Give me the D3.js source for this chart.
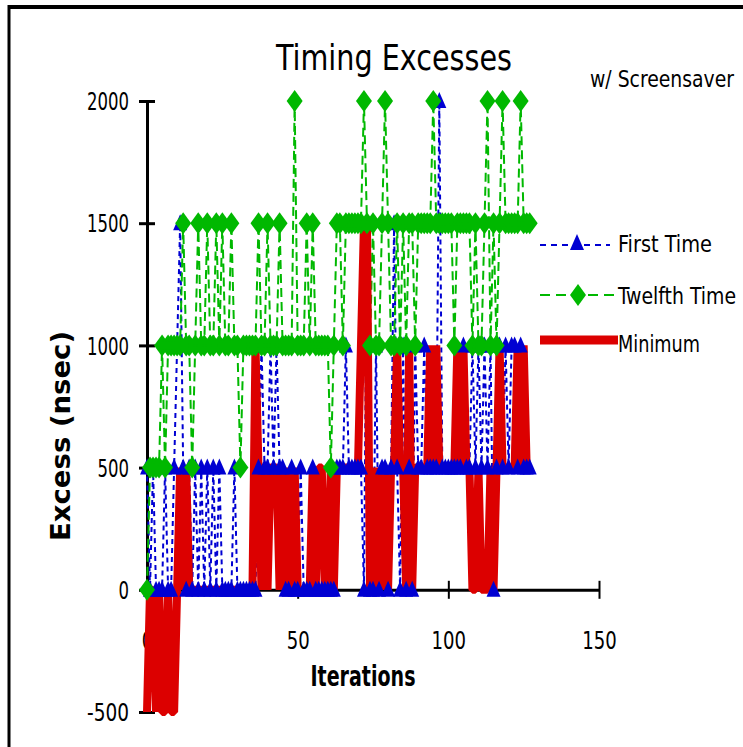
<!DOCTYPE html>
<html>
<head>
<meta charset="utf-8">
<script src="https://cdn.jsdelivr.net/npm/d3@7"></script>
<style>
html,body{margin:0;padding:0;background:#fff;}
svg{display:block;}
text{font-family:"DejaVu Sans Condensed","Liberation Sans Narrow","DejaVu Sans",sans-serif;fill:#000;}
</style>
</head>
<body>
<svg id="chart" width="743" height="747"></svg>
<script>
// ---- data (nsec), iterations 0..127 ----
const firstTime = [
  500,0,500,0,0,0,500,0,0,500,
  1000,1500,500,0,500,0,500,0,500,0,
  500,0,500,0,500,0,0,0,0,500,
  0,0,0,0,0,0,0,500,1000,500,
  500,1000,500,1000,500,500,0,0,500,0,
  0,500,0,0,0,500,0,0,0,0,
  0,0,0,500,500,500,1000,500,500,500,
  500,500,0,1500,0,0,1000,0,500,500,
  0,500,1500,500,0,1000,0,500,0,1000,
  500,500,1000,500,500,500,500,2000,500,500,
  500,500,500,500,500,1000,500,500,1000,500,
  1000,500,1000,500,1000,0,500,1000,500,1000,
  500,1000,1000,500,1000,500,500,500
];
const twelfthTime = [
  0,500,500,500,500,1000,500,1000,1000,1000,
  1000,1000,1500,1000,1000,500,1000,1500,1000,1000,
  1500,1000,1000,1500,1000,1500,1000,1000,1500,1000,
  1000,500,1000,1000,1000,1000,1000,1500,1000,1000,
  1500,1000,1000,1000,1500,1000,1000,1000,1000,2000,
  1000,1000,1000,1500,1000,1500,1000,1000,1000,1000,
  1000,500,1000,1500,1500,1000,1500,1500,1500,1500,
  1500,1500,2000,1500,1000,1500,1000,1000,1500,2000,
  1500,1000,1000,1500,1000,1500,1000,1500,1500,1000,
  1500,1500,1500,1500,1500,2000,1500,1500,1500,1500,
  1500,1500,1000,1500,1500,1500,1500,1500,1000,1500,
  1000,1000,1500,2000,1000,1500,1000,1500,2000,1500,
  1500,1500,1500,1500,2000,1500,1500,1500
];
const minimum = [
  -500,0,0,-500,0,-500,-500,0,-500,-500,
  0,500,0,500,0,0,0,0,0,0,
  0,0,0,0,0,0,0,0,0,0,
  0,0,0,0,0,0,1000,500,0,500,
  0,500,500,500,0,500,0,500,0,500,
  0,0,0,0,0,500,0,500,500,0,
  0,500,0,500,500,500,500,500,500,500,
  500,1000,1500,1500,0,500,0,500,0,500,
  0,500,500,1000,500,500,0,1000,0,500,
  500,500,500,500,1000,500,1000,500,500,500,
  500,500,500,1000,500,1000,500,500,0,0,
  500,0,0,0,500,0,500,1000,500,500,
  500,500,500,1000,500,1000,500,500
];
const xTicks = [0, 50, 100, 150];
const yTicks = [-500, 0, 500, 1000, 1500, 2000];
const seriesNames = ["First Time", "Twelfth Time", "Minimum"];

const BLUE = "#0000d2", GREEN = "#00b800", RED = "#dc0000";

const svg = d3.select("#chart");
const x = d3.scaleLinear().domain([0, 150]).range([147, 599]);
const y = d3.scaleLinear().domain([-500, 2000]).range([712, 101]);

// frame (top & left edges)
svg.append("rect").attr("x", 0).attr("y", 0).attr("width", 743).attr("height", 747).attr("fill", "#fff");
svg.append("line").attr("x1", 8).attr("x2", 743).attr("y1", 7).attr("y2", 7).attr("stroke", "#000").attr("stroke-width", 4);
svg.append("line").attr("x1", 9).attr("x2", 9).attr("y1", 5).attr("y2", 747).attr("stroke", "#000").attr("stroke-width", 3);

// axes
const yAxis = d3.axisLeft(y).tickValues(yTicks).tickSize(0).tickFormat(d => String(d));
const gy = svg.append("g").attr("transform", "translate(147,0)").call(yAxis);
gy.select(".domain").attr("stroke", "#000").attr("stroke-width", 3);
gy.selectAll(".tick text").attr("x", -18).attr("font-size", 25).attr("dy", "0.35em")
  .attr("textLength", d => String(d).length * 10.5).attr("lengthAdjust", "spacingAndGlyphs");
gy.selectAll(".tick").append("line").attr("x1", -8).attr("x2", 8).attr("stroke", "#000").attr("stroke-width", 3);

const xAxis = d3.axisBottom(x).tickValues(xTicks).tickSize(0).tickFormat(d => String(d));
const gx = svg.append("g").attr("transform", `translate(0,${y(0)})`).call(xAxis);
gx.select(".domain").attr("stroke", "#000").attr("stroke-width", 3);
gx.selectAll(".tick text").attr("y", 50).attr("dy", "0.35em").attr("font-size", 25)
  .attr("textLength", d => String(d).length * 11.5).attr("lengthAdjust", "spacingAndGlyphs");
gx.selectAll(".tick").append("line").attr("y1", -9).attr("y2", 9).attr("stroke", "#000").attr("stroke-width", 2);

// series
const idx = d3.range(firstTime.length);
const line = arr => d3.line().x(i => x(i)).y(i => y(arr[i]))(idx);

svg.append("path").attr("d", line(firstTime)).attr("fill", "none").attr("stroke", BLUE)
  .attr("stroke-width", 2).attr("stroke-dasharray", "5,4");
svg.append("path").attr("d", line(twelfthTime)).attr("fill", "none").attr("stroke", GREEN)
  .attr("stroke-width", 2).attr("stroke-dasharray", "9,5");
svg.append("path").attr("d", line(minimum)).attr("fill", "none").attr("stroke", RED)
  .attr("stroke-width", 8).attr("stroke-linejoin", "bevel");

const tri = "M0,-9L7,7L-7,7Z";
const dia = "M0,-11L8,0L0,11L-8,0Z";
svg.append("g").selectAll("path").data(idx).join("path")
  .attr("d", tri).attr("fill", BLUE)
  .attr("transform", i => `translate(${x(i)},${y(firstTime[i])})`);
svg.append("g").selectAll("path").data(idx).join("path")
  .attr("d", dia).attr("fill", GREEN)
  .attr("transform", i => `translate(${x(i)},${y(twelfthTime[i])})`);

// titles
svg.append("text").attr("x", 394).attr("y", 70).attr("text-anchor", "middle").attr("font-size", 36)
  .attr("textLength", 236).attr("lengthAdjust", "spacingAndGlyphs").text("Timing Excesses");
svg.append("text").attr("transform", "translate(590,87) scale(1,1.3)").attr("font-size", 18)
  .attr("textLength", 144).attr("lengthAdjust", "spacingAndGlyphs").text("w/ Screensaver");
svg.append("text").attr("x", 363).attr("y", 686).attr("text-anchor", "middle").attr("font-size", 28)
  .attr("font-weight", "bold").attr("textLength", 105).attr("lengthAdjust", "spacingAndGlyphs").text("Iterations");
svg.append("text").attr("transform", "translate(70,436) rotate(-90)").attr("text-anchor", "middle")
  .attr("font-size", 26).attr("font-weight", "bold").attr("textLength", 210).attr("lengthAdjust", "spacingAndGlyphs")
  .text("Excess (nsec)");

// legend
const lg = svg.append("g");
const legY = [243, 295, 343];
lg.append("line").attr("x1", 540).attr("x2", 610).attr("y1", legY[0] + 2).attr("y2", legY[0] + 2)
  .attr("stroke", BLUE).attr("stroke-width", 2).attr("stroke-dasharray", "6,5");
lg.append("path").attr("d", tri).attr("fill", BLUE).attr("transform", `translate(577,${legY[0]})`);
lg.append("line").attr("x1", 540).attr("x2", 617).attr("y1", legY[1]).attr("y2", legY[1])
  .attr("stroke", GREEN).attr("stroke-width", 2).attr("stroke-dasharray", "10,6");
lg.append("path").attr("d", dia).attr("fill", GREEN).attr("transform", `translate(578,${legY[1]})`);
lg.append("line").attr("x1", 540).attr("x2", 618).attr("y1", legY[2] - 3).attr("y2", legY[2] - 3)
  .attr("stroke", RED).attr("stroke-width", 9);
const legW = [94, 118, 82];
seriesNames.forEach((n, k) => {
  lg.append("text").attr("transform", `translate(618,${legY[k] + 9}) scale(1,1.3)`).attr("font-size", 18)
    .attr("textLength", legW[k]).attr("lengthAdjust", "spacingAndGlyphs").text(n);
});
</script>
</body>
</html>
